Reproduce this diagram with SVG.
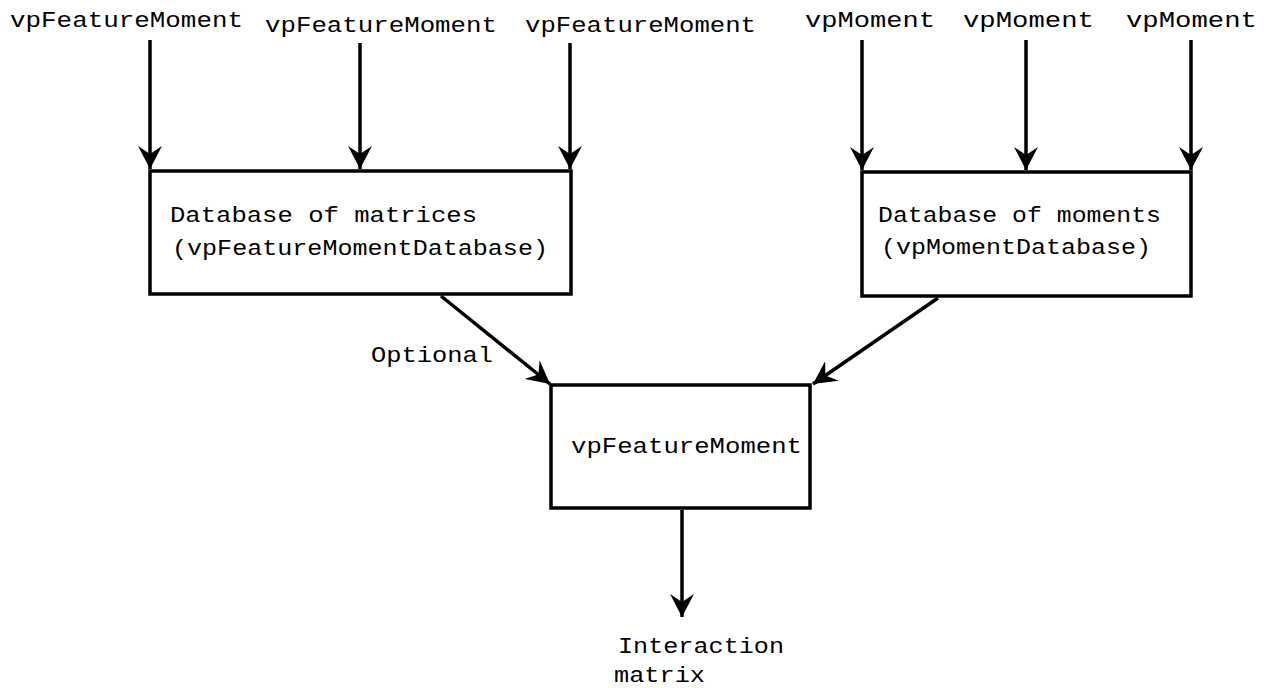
<svg xmlns="http://www.w3.org/2000/svg" width="1271" height="688" viewBox="0 0 1271 688">
<style>
text{font-family:"Liberation Mono","Courier New",monospace;font-size:22px;fill:#000}
.box{fill:#fff;stroke:#000;stroke-width:3.5}
.c{stroke:#000;stroke-width:3.5;fill:none;marker-end:url(#ah)}
</style>
<defs>
<marker id="ah" markerUnits="userSpaceOnUse" markerWidth="24" markerHeight="24" refX="23" refY="12" orient="auto" viewBox="0 0 24 24">
<path d="M0,0 L23,12 L0,24 L8,12 z" fill="#000"/>
</marker>
</defs>
<g id="labels">
<text x="10" y="27" textLength="233" lengthAdjust="spacingAndGlyphs">vpFeatureMoment</text>
<text x="265" y="32" textLength="232" lengthAdjust="spacingAndGlyphs">vpFeatureMoment</text>
<text x="525" y="32" textLength="231" lengthAdjust="spacingAndGlyphs">vpFeatureMoment</text>
<text x="805" y="27" textLength="130" lengthAdjust="spacingAndGlyphs">vpMoment</text>
<text x="963" y="27" textLength="131" lengthAdjust="spacingAndGlyphs">vpMoment</text>
<text x="1126" y="27" textLength="131" lengthAdjust="spacingAndGlyphs">vpMoment</text>
<text x="371" y="362" textLength="122" lengthAdjust="spacingAndGlyphs">Optional</text>
<text x="618" y="653" textLength="166" lengthAdjust="spacingAndGlyphs">Interaction</text>
<text x="614" y="682" textLength="91" lengthAdjust="spacingAndGlyphs">matrix</text>
</g>
<g id="connectors">
<line class="c" x1="150" y1="40" x2="150" y2="169"/>
<line class="c" x1="360" y1="43" x2="360" y2="169"/>
<line class="c" x1="570" y1="43" x2="570" y2="169"/>
<line class="c" x1="862" y1="40" x2="862" y2="170"/>
<line class="c" x1="1026" y1="40" x2="1026" y2="170"/>
<line class="c" x1="1191" y1="40" x2="1191" y2="170"/>
<line class="c" x1="441" y1="296" x2="550" y2="384"/>
<line class="c" x1="938" y1="298" x2="813" y2="384"/>
<line class="c" x1="682" y1="510" x2="682" y2="617"/>
</g>
<g id="db-matrices">
<rect class="box" x="150" y="171" width="421" height="123"/>
<text x="170" y="222" textLength="307" lengthAdjust="spacingAndGlyphs">Database of matrices</text>
<text x="172" y="255" textLength="376" lengthAdjust="spacingAndGlyphs">(vpFeatureMomentDatabase)</text>
</g>
<g id="db-moments">
<rect class="box" x="862" y="172" width="329" height="124"/>
<text x="878" y="222" textLength="283" lengthAdjust="spacingAndGlyphs">Database of moments</text>
<text x="881" y="254" textLength="270" lengthAdjust="spacingAndGlyphs">(vpMomentDatabase)</text>
</g>
<g id="feature-moment">
<rect class="box" x="551" y="385" width="259" height="123"/>
<text x="571" y="453" textLength="231" lengthAdjust="spacingAndGlyphs">vpFeatureMoment</text>
</g>
</svg>
